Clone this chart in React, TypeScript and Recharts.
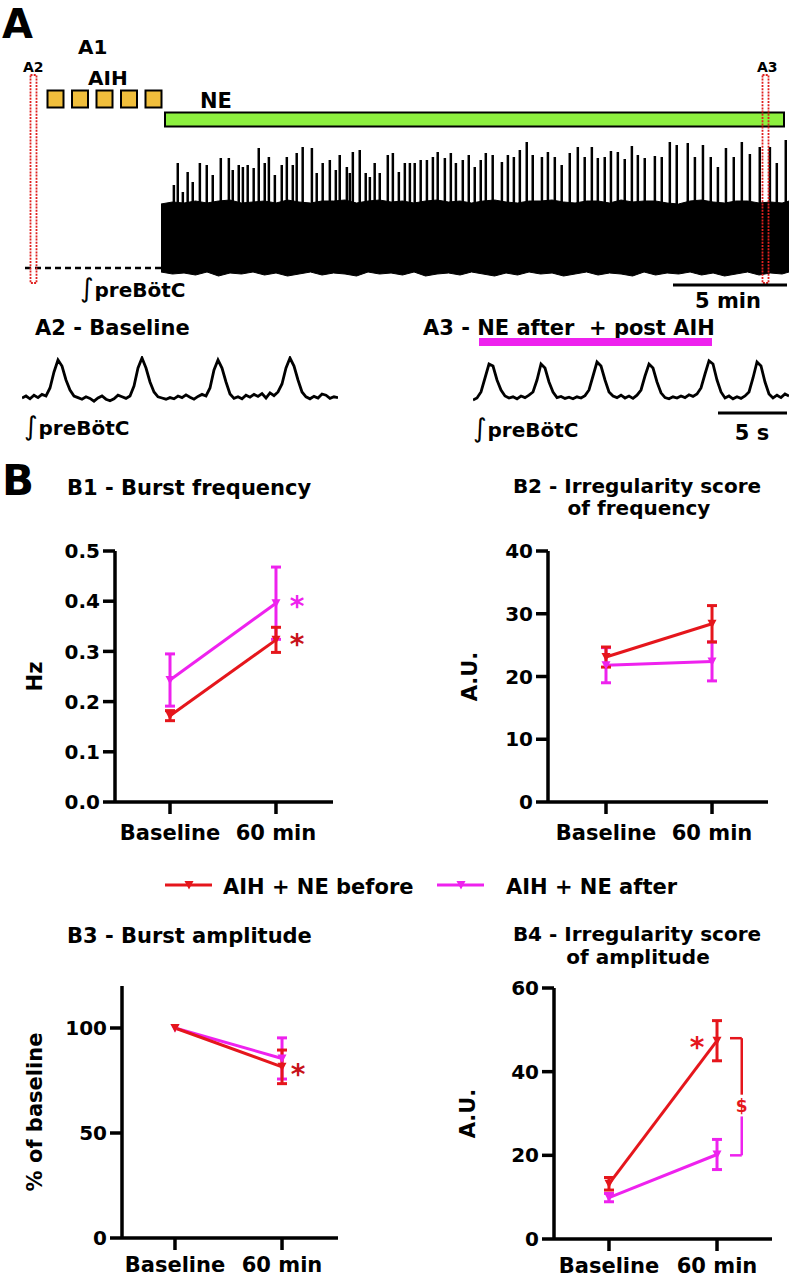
import React from 'react';
import {
  LineChart, Line, XAxis, YAxis, ErrorBar, ReferenceDot, ReferenceLine,
  AreaChart, Area, BarChart, Bar,
} from 'recharts';

const RED = '#E5161C';
const DARK_RED = '#C8121A';
const MAGENTA = '#EE22EE';
const FONT = '"DejaVu Sans", sans-serif';

// ---------- panel A: raw traces (arbitrary units) ----------
// A1: burst peaks during NE, time in minutes from NE onset
const a1SpikeTimes = [
  0.57, 0.74, 0.96, 1.17, 1.39, 1.7, 2.0, 2.26, 2.61, 2.96,
  3.13, 3.39, 3.57, 3.78, 4.04, 4.26, 4.52, 4.7, 4.96, 5.26,
  5.48, 5.74, 5.91, 6.17, 6.57, 6.78, 7.04, 7.35, 7.61, 7.78,
  8.09, 8.22, 8.35, 8.65, 8.91, 9.09, 9.3, 9.52, 9.87, 10.09,
  10.35, 10.61, 10.83, 11.04, 11.3, 11.57, 11.83, 12.04, 12.35, 12.61,
  12.83, 13.13, 13.39, 13.65, 13.91, 14.13, 14.43, 14.83, 15.09, 15.35,
  15.61, 15.91, 16.17, 16.57, 16.83, 17.13, 17.43, 17.78, 18.13, 18.43,
  18.74, 19.0, 19.3, 19.57, 19.87, 20.17, 20.48, 20.74, 21.04, 21.48,
  21.78, 22.13, 22.43, 22.91, 23.22, 23.57, 23.91, 24.22, 24.57, 24.91,
  25.26, 25.61, 26.04, 26.48, 26.78, 27.17,
];
const a1SpikeHeights = [
  8.5, 10.7, 7.8, 9.8, 8.8, 10.7, 10.5, 9.5, 11.2, 11.2,
  10.0, 10.5, 10.3, 10.5, 10.2, 12.2, 10.7, 11.3, 9.5, 10.5,
  11.3, 10.5, 11.7, 12.3, 12.2, 9.7, 10.7, 11.0, 10.0, 11.5,
  10.3, 9.7, 11.8, 12.0, 9.7, 9.3, 10.7, 9.7, 11.5, 11.7,
  9.8, 10.7, 10.7, 10.7, 11.0, 11.0, 11.3, 11.8, 11.2, 11.7,
  10.7, 11.0, 11.5, 10.3, 11.0, 11.7, 11.5, 10.8, 11.5, 11.3,
  12.0, 12.8, 11.5, 11.3, 11.8, 11.3, 10.5, 11.7, 12.3, 11.3,
  12.3, 11.2, 11.3, 11.9, 11.8, 11.1, 12.4, 11.5, 11.2, 11.4,
  11.3, 12.8, 12.5, 12.7, 11.3, 12.5, 11.3, 10.3, 12.2, 11.3,
  12.8, 11.6, 12.3, 12.3, 10.7, 13.0,
];
// A1: envelope of the fast oscillation
const a1BlockTimes = [
  0, 0.5, 1, 1.5, 2, 2.5, 3, 3.5, 4, 4.5,
  5, 5.5, 6, 6.5, 7, 7.5, 8, 8.5, 9, 9.5,
  10, 10.5, 11, 11.5, 12, 12.5, 13, 13.5, 14, 14.5,
  15, 15.5, 16, 16.5, 17, 17.5, 18, 18.5, 19, 19.5,
  20, 20.5, 21, 21.5, 22, 22.5, 23, 23.5, 24, 24.5,
  25, 25.5, 26, 26.5, 27, 27.3,
];
const a1BlockTop = [
  6.6, 6.8, 6.7, 6.9, 6.7, 6.9, 7.0, 6.7, 6.8, 6.9,
  6.7, 7.0, 6.8, 6.7, 6.9, 6.9, 7.0, 6.7, 6.9, 7.0,
  6.8, 6.9, 6.7, 6.9, 7.0, 6.8, 6.9, 6.7, 6.9, 7.0,
  6.8, 6.7, 6.9, 6.9, 7.0, 6.8, 6.7, 6.9, 6.9, 6.7,
  7.0, 6.8, 6.9, 6.9, 6.7, 6.6, 6.9, 7.0, 6.8, 6.7,
  6.9, 6.9, 6.7, 6.8, 6.7, 6.9,
];
const a1BlockBottom = [
  -0.2, -0.4, -0.3, -0.5, -0.2, -0.6, -0.3, -0.4, -0.2, -0.5,
  -0.3, -0.6, -0.4, -0.2, -0.5, -0.3, -0.4, -0.6, -0.2, -0.4,
  -0.3, -0.5, -0.2, -0.6, -0.4, -0.3, -0.5, -0.2, -0.4, -0.6,
  -0.3, -0.5, -0.2, -0.4, -0.3, -0.6, -0.4, -0.2, -0.5, -0.3,
  -0.4, -0.6, -0.2, -0.5, -0.3, -0.4, -0.2, -0.5, -0.3, -0.6,
  -0.4, -0.2, -0.5, -0.3, -0.4, -0.2,
];

// A2 baseline and A3 NE after + post AIH, integrated preBötC
const a2Trace = [
  0.5, 1.0, 0.3, 1.2, 0.6, 1.4, 1.0, 3.0, 7.0, 10.0,
  8.5, 5.0, 2.5, 1.0, 0.6, 0.2, 0.8, 0.4, -0.3, 0.5,
  1.0, 0.2, -0.2, 0.3, 1.2, 0.8, 0.4, 1.0, 3.5, 8.0,
  10.5, 8.0, 4.5, 2.0, 0.8, 0.5, 0.2, 0.6, 0.3, 1.0,
  0.6, 1.3, 0.7, 0.2, 0.9, 1.4, 1.0, 3.0, 7.5, 10.0,
  8.0, 4.5, 1.5, 0.4, 0.8, 0.3, 1.2, 0.7, 1.4, 0.9,
  1.6, 0.5, 1.8, 1.1, 2.0, 4.0, 8.0, 10.5, 8.5, 5.0,
  2.0, 0.8, 0.3, 0.9, 0.5, 1.5, 1.2, 0.4, 0.8, 0.6,
];
const a3Trace = [
  0.0, 0.5, 2.0, 5.5, 9.0, 8.5, 5.0, 2.5, 1.0, 0.5,
  0.8, 0.3, 1.0, 0.6, 1.2, 2.0, 5.0, 9.0, 8.0, 4.5,
  2.0, 0.6, 0.9, 0.4, 0.7, 0.3, 0.8, 0.5, 1.1, 2.5,
  6.0, 9.5, 8.5, 5.0, 2.0, 1.0, 0.6, 1.2, 0.5, 1.0,
  0.4, 1.2, 2.5, 6.0, 9.0, 8.0, 4.5, 1.8, 0.6, 0.3,
  0.8, 0.5, 1.0, 0.6, 1.3, 0.9, 1.5, 3.0, 6.5, 9.8,
  9.0, 5.0, 2.0, 0.5, 1.0, 0.3, 0.8, 0.4, 1.0, 2.0,
  5.5, 9.5, 8.5, 4.5, 1.5, 0.5, 1.2, 0.6, 1.5, 1.0,
];

// ---------- panel B: group means and SEM ----------
const groups = ['Baseline', '60 min'];
const seriesNames = ['AIH + NE before', 'AIH + NE after'];

const freqBefore = [0.172, 0.323];
const freqBeforeErr = [0.01, 0.025];
const freqAfter = [0.243, 0.396];
const freqAfterErr = [0.052, 0.072];

const irrFreqBefore = [23.1, 28.4];
const irrFreqBeforeErr = [1.6, 2.9];
const irrFreqAfter = [21.8, 22.4];
const irrFreqAfterErr = [2.8, 3.1];

const ampBefore = [100, 81.5];
const ampBeforeErr = [0, 8];
const ampAfter = [100, 85.5];
const ampAfterErr = [0, 9.8];

const irrAmpBefore = [13.2, 47.4];
const irrAmpBeforeErr = [1.5, 4.8];
const irrAmpAfter = [9.9, 20.2];
const irrAmpAfterErr = [1, 3.6];

const tri = (cx: number, cy: number) =>
  `M${cx - 4.5},${cy - 4} L${cx + 4.5},${cy - 4} L${cx},${cy + 4.5} Z`;

const dotFor = (color: string) => (p: any) => {
  if (p.cx == null || p.cy == null) return <g key={`d${p.index}`} />;
  return <path key={`d${p.index}`} d={tri(p.cx, p.cy)} fill={color} />;
};

const markText = (txt: string, color: string, size: number, dy: number) => (p: any) => (
  <text x={p.cx} y={p.cy + dy} textAnchor="middle" fill={color} fontSize={size} fontWeight={700} fontFamily={FONT}>
    {txt}
  </text>
);

const axisStroke = { stroke: '#000', strokeWidth: 3.5 };
const tickFont = { fill: '#000', fontSize: 20, fontWeight: 700, fontFamily: FONT };

function StatChart(props: any) {
  const {
    left, top, width, height, marginTop, marginRight, yWidth, xHeight, xTickMargin,
    xDomain, yDomain, yTicks, yFormat, yLabel, yLabelOffset,
    before, beforeErr, after, afterErr, children,
  } = props;
  const data = groups.map((g, i) => ({
    x: i, name: g,
    before: before[i], beforeErr: beforeErr[i],
    after: after[i], afterErr: afterErr[i],
  }));
  return (
    <div style={{ position: 'absolute', left, top }}>
      <LineChart width={width} height={height} data={data}
        margin={{ top: marginTop, right: marginRight, bottom: 0, left: 0 }}>
        <XAxis type="number" dataKey="x" domain={xDomain} ticks={[0, 1]}
          tickFormatter={(v: number) => groups[v]} height={xHeight}
          axisLine={axisStroke} tickLine={axisStroke} tickSize={12} tickMargin={xTickMargin}
          tick={{ ...tickFont, fontSize: 21 }} interval={0} />
        <YAxis domain={yDomain} ticks={yTicks} tickFormatter={yFormat} width={yWidth}
          axisLine={axisStroke} tickLine={axisStroke} tickSize={12} tickMargin={3}
          tick={tickFont} interval={0}
          label={{
            value: yLabel, angle: -90, position: 'insideLeft', offset: yLabelOffset,
            style: { textAnchor: 'middle', fill: '#000', fontSize: 21, fontWeight: 700, fontFamily: FONT },
          }} />
        <Line dataKey="after" stroke={MAGENTA} strokeWidth={3} dot={dotFor(MAGENTA)}
          isAnimationActive={false}>
          <ErrorBar dataKey="afterErr" direction="y" width={5} stroke={MAGENTA} strokeWidth={3} />
        </Line>
        <Line dataKey="before" stroke={RED} strokeWidth={3} dot={dotFor(RED)}
          isAnimationActive={false}>
          <ErrorBar dataKey="beforeErr" direction="y" width={5} stroke={RED} strokeWidth={3} />
        </Line>
        {children}
      </LineChart>
    </div>
  );
}

function TraceChart({ left, top, values }: { left: number; top: number; values: number[] }) {
  const data = values.map((v, i) => ({ i, v }));
  return (
    <div style={{ position: 'absolute', left, top }}>
      <LineChart width={316} height={52} data={data} margin={{ top: 0, right: 0, bottom: 0, left: 0 }}>
        <XAxis type="number" dataKey="i" domain={[0, values.length - 1]} hide />
        <YAxis domain={[-2, 11]} hide />
        <Line dataKey="v" type="linear" stroke="#000" strokeWidth={2.8} dot={false}
          isAnimationActive={false} />
      </LineChart>
    </div>
  );
}

function PreBotC({ x, y }: { x: number; y: number }) {
  return (
    <text x={x} y={y} fontFamily={FONT}>
      <tspan fontSize={26} fontWeight={400}>∫</tspan>
      <tspan fontSize={20} fontWeight={700} dx={1}>preBötC</tspan>
    </text>
  );
}

export default function App() {
  const blockData = a1BlockTimes.map((t, i) => ({ t, band: [a1BlockBottom[i], a1BlockTop[i]] }));
  const spikeData = a1SpikeTimes.map((t, i) => ({ t, spike: a1SpikeHeights[i] }));
  const aihEpisodes = [0, 1, 2, 3, 4];

  return (
    <div style={{ position: 'absolute', left: 0, top: 0, width: 789, height: 1280, background: '#fff', overflow: 'hidden' }}>
      {/* A1 trace: oscillation envelope + burst peaks */}
      <div style={{ position: 'absolute', left: 161, top: 130 }}>
        <AreaChart width={628} height={150} data={blockData} margin={{ top: 0, right: 0, bottom: 0, left: 0 }}>
          <XAxis type="number" dataKey="t" domain={[0, 27.3]} hide />
          <YAxis domain={[-1, 14]} hide />
          <Area dataKey="band" type="linear" stroke="#000" strokeWidth={1} fill="#000" fillOpacity={1}
            isAnimationActive={false} />
        </AreaChart>
      </div>
      <div style={{ position: 'absolute', left: 161, top: 130 }}>
        <BarChart width={628} height={150} data={spikeData} margin={{ top: 0, right: 0, bottom: 0, left: 0 }}>
          <XAxis type="number" dataKey="t" domain={[0, 27.3]} hide />
          <YAxis domain={[-1, 14]} hide />
          <Bar dataKey="spike" barSize={2.5} fill="#000" isAnimationActive={false} />
        </BarChart>
      </div>

      <TraceChart left={22} top={356} values={a2Trace} />
      <TraceChart left={473} top={356} values={a3Trace} />

      <StatChart left={0} top={520} width={345} height={330} marginTop={31} marginRight={12}
        yWidth={115} xHeight={48} xTickMargin={11} xDomain={[-0.519, 1.538]} yDomain={[0, 0.5]}
        yTicks={[0, 0.1, 0.2, 0.3, 0.4, 0.5]} yFormat={(v: number) => v.toFixed(1)}
        yLabel="Hz" yLabelOffset={35}
        before={freqBefore} beforeErr={freqBeforeErr} after={freqAfter} afterErr={freqAfterErr}>
        <ReferenceDot x={1.2} y={0.4} r={0} shape={markText('*', MAGENTA, 28, 15)} />
        <ReferenceDot x={1.2} y={0.325} r={0} shape={markText('*', DARK_RED, 28, 15)} />
      </StatChart>

      <StatChart left={400} top={520} width={380} height={330} marginTop={31} marginRight={12}
        yWidth={148} xHeight={48} xTickMargin={11} xDomain={[-0.547, 1.528]} yDomain={[0, 40]}
        yTicks={[0, 10, 20, 30, 40]} yFormat={(v: number) => String(v)}
        yLabel="A.U." yLabelOffset={70}
        before={irrFreqBefore} beforeErr={irrFreqBeforeErr} after={irrFreqAfter} afterErr={irrFreqAfterErr} />

      <StatChart left={0} top={960} width={350} height={320} marginTop={26} marginRight={12}
        yWidth={122} xHeight={42} xTickMargin={7} xDomain={[-0.495, 1.523]} yDomain={[0, 120]}
        yTicks={[0, 50, 100]} yFormat={(v: number) => String(v)}
        yLabel="% of baseline" yLabelOffset={35}
        before={ampBefore} beforeErr={ampBeforeErr} after={ampAfter} afterErr={ampAfterErr}>
        <ReferenceDot x={1.15} y={80.5} r={0} shape={markText('*', DARK_RED, 28, 15)} />
      </StatChart>

      <StatChart left={400} top={960} width={385} height={320} marginTop={28} marginRight={13}
        yWidth={154} xHeight={41} xTickMargin={7} xDomain={[-0.509, 1.509]} yDomain={[0, 60]}
        yTicks={[0, 20, 40, 60]} yFormat={(v: number) => String(v)}
        yLabel="A.U." yLabelOffset={68}
        before={irrAmpBefore} beforeErr={irrAmpBeforeErr} after={irrAmpAfter} afterErr={irrAmpAfterErr}>
        <ReferenceDot x={0.815} y={47} r={0} shape={markText('*', RED, 28, 15)} />
        <ReferenceLine segment={[{ x: 1.12, y: 48 }, { x: 1.229, y: 48 }]} stroke={RED} strokeWidth={2.5} />
        <ReferenceLine segment={[{ x: 1.229, y: 48 }, { x: 1.229, y: 34.5 }]} stroke={RED} strokeWidth={2.5} />
        <ReferenceLine segment={[{ x: 1.229, y: 29.3 }, { x: 1.229, y: 20 }]} stroke={MAGENTA} strokeWidth={2.5} />
        <ReferenceLine segment={[{ x: 1.12, y: 20 }, { x: 1.229, y: 20 }]} stroke={MAGENTA} strokeWidth={2.5} />
        <ReferenceDot x={1.229} y={31.9} r={0} shape={markText('$', RED, 17, 6)} />
      </StatChart>

      {/* labels and protocol annotations */}
      <svg width={789} height={1280} style={{ position: 'absolute', left: 0, top: 0, pointerEvents: 'none' }}
        fontFamily={FONT} fontWeight={700}>
        <text x={2} y={38} fontSize={40}>A</text>
        <text x={78} y={54} fontSize={20}>A1</text>
        <text x={23} y={72} fontSize={14}>A2</text>
        <text x={757} y={72} fontSize={14}>A3</text>
        <text x={88} y={85} fontSize={20}>AIH</text>
        {aihEpisodes.map((k) => (
          <rect key={k} x={47.5 + k * 24.5} y={90.5} width={16} height={17} fill="#F0BE3C" stroke="#000" strokeWidth={2} />
        ))}
        <text x={200} y={108} fontSize={21}>NE</text>
        <rect x={165} y={112.5} width={619} height={14} fill="#8DF03F" stroke="#000" strokeWidth={2} />
        <line x1={25} x2={161} y1={268} y2={268} stroke="#000" strokeWidth={2.5} strokeDasharray="6 4" />
        <rect x={30.5} y={75} width={6} height={208} fill="none" stroke="#E0201E" strokeWidth={1.8} strokeDasharray="2 1.2" />
        <rect x={762.5} y={75} width={6} height={208} fill="none" stroke="#E0201E" strokeWidth={1.8} strokeDasharray="2 1.2" />
        <PreBotC x={80} y={297} />
        <line x1={673} x2={787} y1={285} y2={285} stroke="#000" strokeWidth={3} />
        <text x={728} y={308} fontSize={21} textAnchor="middle">5 min</text>

        <text x={35} y={335} fontSize={21}>A2 - Baseline</text>
        <text x={423} y={335} fontSize={21} style={{ whiteSpace: 'pre' }}>A3 - NE after  + post AIH</text>
        <rect x={479} y={338} width={233} height={8} fill={MAGENTA} />
        <PreBotC x={24} y={435} />
        <PreBotC x={473} y={437} />
        <line x1={718} x2={787} y1={413} y2={413} stroke="#000" strokeWidth={3} />
        <text x={752} y={440} fontSize={21} textAnchor="middle">5 s</text>

        <text x={2} y={495} fontSize={42}>B</text>
        <text x={67} y={495} fontSize={21}>B1 - Burst frequency</text>
        <text x={637} y={493} fontSize={20} textAnchor="middle">B2 - Irregularity score</text>
        <text x={639} y={515} fontSize={20} textAnchor="middle">of frequency</text>

        <line x1={165} x2={212} y1={885} y2={885} stroke={RED} strokeWidth={3} />
        <path d={tri(189, 885)} fill={RED} />
        <text x={223} y={894} fontSize={21}>{seriesNames[0]}</text>
        <line x1={437} x2={484} y1={885} y2={885} stroke={MAGENTA} strokeWidth={3} />
        <path d={tri(461, 885)} fill={MAGENTA} />
        <text x={506} y={894} fontSize={21}>{seriesNames[1]}</text>

        <text x={67} y={943} fontSize={21}>B3 - Burst amplitude</text>
        <text x={637} y={941} fontSize={20} textAnchor="middle">B4 - Irregularity score</text>
        <text x={638} y={964} fontSize={20} textAnchor="middle">of amplitude</text>
      </svg>
    </div>
  );
}
